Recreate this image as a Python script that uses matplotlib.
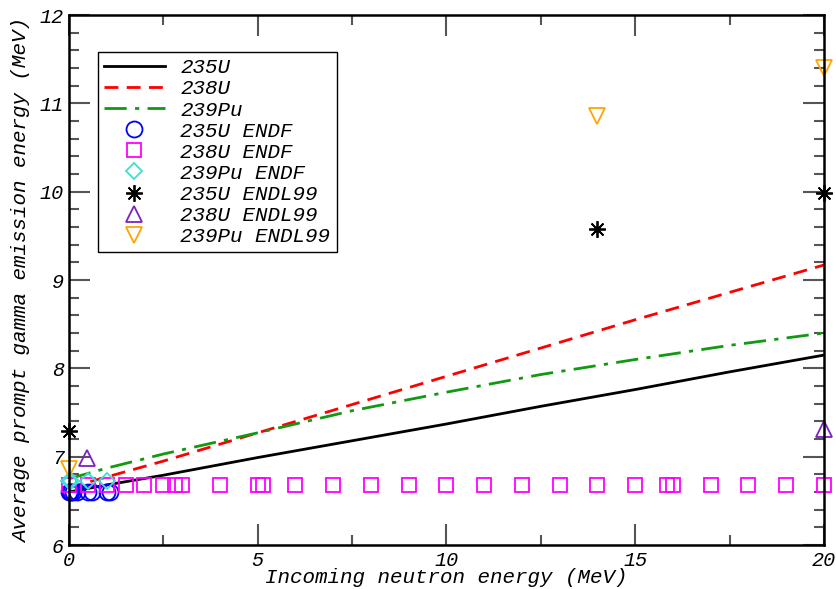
import matplotlib.pyplot as plt
from matplotlib.ticker import MultipleLocator

plt.rcParams['font.family'] = ['Liberation Mono', 'DejaVu Sans Mono']
plt.rcParams['font.style'] = 'italic'

# model curves
x_curve = [0, 1, 2.5, 5, 7.5, 10, 12.5, 15, 17.5, 20]
u235 = [6.60, 6.68, 6.79, 6.99, 7.18, 7.37, 7.57, 7.76, 7.96, 8.15]
u238 = [6.65, 6.77, 6.95, 7.27, 7.59, 7.91, 8.23, 8.55, 8.86, 9.17]
pu239 = [6.75, 6.87, 7.03, 7.27, 7.52, 7.73, 7.93, 8.10, 8.26, 8.40]

# evaluated data
u235_endf_x = [0, 0.02, 0.05, 0.1, 0.2, 0.5, 0.6, 1.0, 1.1]
u235_endf_y = [6.60, 6.60, 6.60, 6.60, 6.60, 6.60, 6.60, 6.60, 6.60]
u238_endf_x = [0, 0.5, 1.0, 1.5, 2.0, 2.5, 2.8, 3.0, 4.0, 5.0, 5.15, 6, 7, 8, 9,
               10, 11, 12, 13, 14, 15, 15.85, 16, 17, 18, 19, 20]
u238_endf_y = [6.68] * len(u238_endf_x)
pu239_endf_x = [0, 0.05, 0.5, 1.0]
pu239_endf_y = [6.73, 6.73, 6.73, 6.73]
u235_endl_x = [0, 14, 20]
u235_endl_y = [7.29, 9.58, 9.99]
u238_endl_x = [0.48, 20]
u238_endl_y = [6.98, 7.31]
pu239_endl_x = [0, 14, 20]
pu239_endl_y = [6.86, 10.86, 11.40]

fig = plt.figure(figsize=(8.36, 5.89), dpi=100)
ax = fig.add_axes([0.0825, 0.0747, 0.9031, 0.8998])

ax.plot(x_curve, u235, color='black', lw=2, label='235U')
ax.plot(x_curve, u238, color='#ff0000', lw=2, ls=(0, (5, 3)), label='238U')
ax.plot(x_curve, pu239, color='#119911', lw=2, ls=(0, (8, 3, 1.5, 3)), label='239Pu')

mk = dict(ls='none', mfc='none', mew=1.3, clip_on=False)
ax.plot(u235_endf_x, u235_endf_y, marker='o', ms=11.5, mec='#0000ff', label='235U ENDF', **mk)
ax.plot(u238_endf_x, u238_endf_y, marker='s', ms=10, mec='#ff00ff', label='238U ENDF', **mk)
ax.plot(pu239_endf_x, pu239_endf_y, marker='D', ms=8.5, mec='#40e0d0', label='239Pu ENDF', **mk)
ax.plot(u235_endl_x, u235_endl_y, marker=(8, 2, 0), ms=12, mec='black', label='235U ENDL99', **mk)
ax.plot(u238_endl_x, u238_endl_y, marker='^', ms=12, mec='#7b22c4', label='238U ENDL99', **mk)
ax.plot(pu239_endl_x, pu239_endl_y, marker='v', ms=12, mec='#ffa500', label='239Pu ENDL99', **mk)

ax.set_xlim(0, 20)
ax.set_ylim(6, 12)
ax.xaxis.set_major_locator(MultipleLocator(5))
ax.xaxis.set_minor_locator(MultipleLocator(2.5))
ax.yaxis.set_major_locator(MultipleLocator(1))
ax.yaxis.set_minor_locator(MultipleLocator(0.2))
ax.tick_params(which='both', direction='in', top=True, right=True, color='#555555',
               labelsize=14.5, width=1.5)
ax.tick_params(which='major', length=15)
ax.tick_params(which='minor', length=7)
ax.tick_params(axis='x', pad=4)
for s in ax.spines.values():
    s.set_linewidth(1.8)

ax.set_xlabel('Incoming neutron energy (MeV)', fontsize=15, labelpad=-1)
ax.set_ylabel('Average prompt gamma emission energy (MeV)', fontsize=15, labelpad=6)

leg = ax.legend(loc='upper left', bbox_to_anchor=(0.0384, 0.930), borderaxespad=0,
                fontsize=15, handlelength=2.9, labelspacing=0.1, borderpad=0.3,
                handletextpad=0.75, fancybox=False, framealpha=1,
                edgecolor='black', numpoints=1)
leg.get_frame().set_linewidth(1.0)

fig.savefig('out.png', dpi=100)
